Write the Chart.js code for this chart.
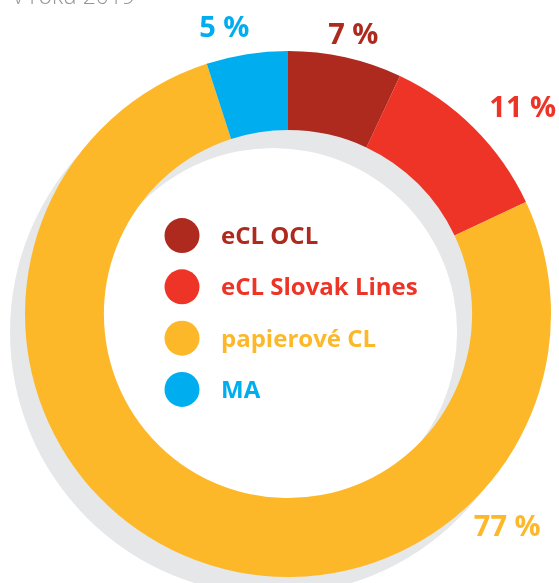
<!DOCTYPE html>
<html>
<head>
<meta charset="utf-8">
<script src="https://cdn.jsdelivr.net/npm/chart.js@4/dist/chart.umd.min.js"></script>
<style>
  html, body { margin: 0; padding: 0; background: #ffffff; }
  #wrap { position: relative; width: 559px; height: 583px; overflow: hidden; }
  canvas { display: block; }
</style>
</head>
<body>
<div id="wrap"><canvas id="c" width="559" height="583"></canvas></div>
<script>
// ---- data ----
const categories = ['eCL OCL', 'eCL Slovak Lines', 'papierové CL', 'MA'];
const shares = [7, 11, 77, 5];
const valueLabels = ['7 %', '11 %', '77 %', '5 %'];
const subtitle = 'v roku 2019';

// ---- styles ----
const colors = ['#AE2A1E', '#EE3426', '#FDB82A', '#00AEEF'];
const shadowColor = '#E6E7E8';
// label anchors: angle (deg, clockwise from top) and radius factor of outer radius
const labelAnchors = [
  { angle: 13.1, r: 1.095 },
  { angle: 48.6, r: 1.19 },
  { angle: 134, r: 1.159 },
  { angle: -12.5, r: 1.12 }
];
const shadowOffset = { dx: -15, dy: 18 };

const shadowPlugin = {
  id: 'ringShadow',
  beforeDatasetsDraw(chart) {
    const arc = chart.getDatasetMeta(0).data[0];
    if (!arc) return;
    const { x, y, outerRadius, innerRadius } = arc.getProps(['x', 'y', 'outerRadius', 'innerRadius'], true);
    const ctx = chart.ctx;
    const sx = x + shadowOffset.dx, sy = y + shadowOffset.dy;
    ctx.save();
    ctx.beginPath();
    ctx.arc(sx, sy, outerRadius, 0, Math.PI * 2, false);
    ctx.arc(sx, sy, innerRadius, 0, Math.PI * 2, true);
    ctx.closePath();
    ctx.fillStyle = shadowColor;
    ctx.fill('evenodd');
    ctx.restore();
  }
};

const textPlugin = {
  id: 'texts',
  afterDatasetsDraw(chart) {
    const arc = chart.getDatasetMeta(0).data[0];
    if (!arc) return;
    const { x, y, outerRadius } = arc.getProps(['x', 'y', 'outerRadius'], true);
    const ctx = chart.ctx;
    ctx.save();
    // subtitle (cut at top)
    ctx.font = '300 23px "Open Sans"';
    ctx.fillStyle = '#939598';
    ctx.textAlign = 'left';
    ctx.textBaseline = 'alphabetic';
    ctx.fillText(subtitle, 13, 4);

    // value labels
    const pSize = 29;
    ctx.font = 'bold ' + pSize + 'px "Open Sans"';
    ctx.textAlign = 'center';
    valueLabels.forEach((t, i) => {
      const a = labelAnchors[i].angle * Math.PI / 180;
      const r = outerRadius * labelAnchors[i].r;
      const lx = x + r * Math.sin(a);
      const ly = y - r * Math.cos(a);
      ctx.fillStyle = colors[i];
      ctx.fillText(t, lx, ly + pSize * 0.357);
    });

    // central legend
    const lSize = 24;
    const spacing = 51.3;
    const startY = y - spacing * 1.5 - 1.5;
    const circleX = x - 106;
    const textX = x - 67;
    ctx.font = 'bold ' + lSize + 'px "Open Sans"';
    ctx.textAlign = 'left';
    categories.forEach((c, i) => {
      const cy = startY + i * spacing;
      ctx.beginPath();
      ctx.arc(circleX, cy, 17.5, 0, Math.PI * 2);
      ctx.fillStyle = colors[i];
      ctx.fill();
      ctx.fillText(c, textX, cy + lSize * 0.357);
    });
    ctx.restore();
  }
};

new Chart(document.getElementById('c'), {
  type: 'doughnut',
  data: {
    labels: categories,
    datasets: [{
      data: shares,
      backgroundColor: colors,
      borderWidth: 0,
      hoverOffset: 0
    }]
  },
  options: {
    responsive: false,
    animation: false,
    cutout: '70%',
    rotation: 0,
    layout: { padding: { left: 25, right: 8, top: 51, bottom: 6 } },
    plugins: {
      legend: { display: false },
      tooltip: { enabled: false }
    }
  },
  plugins: [shadowPlugin, textPlugin]
});
</script>
</body>
</html>
